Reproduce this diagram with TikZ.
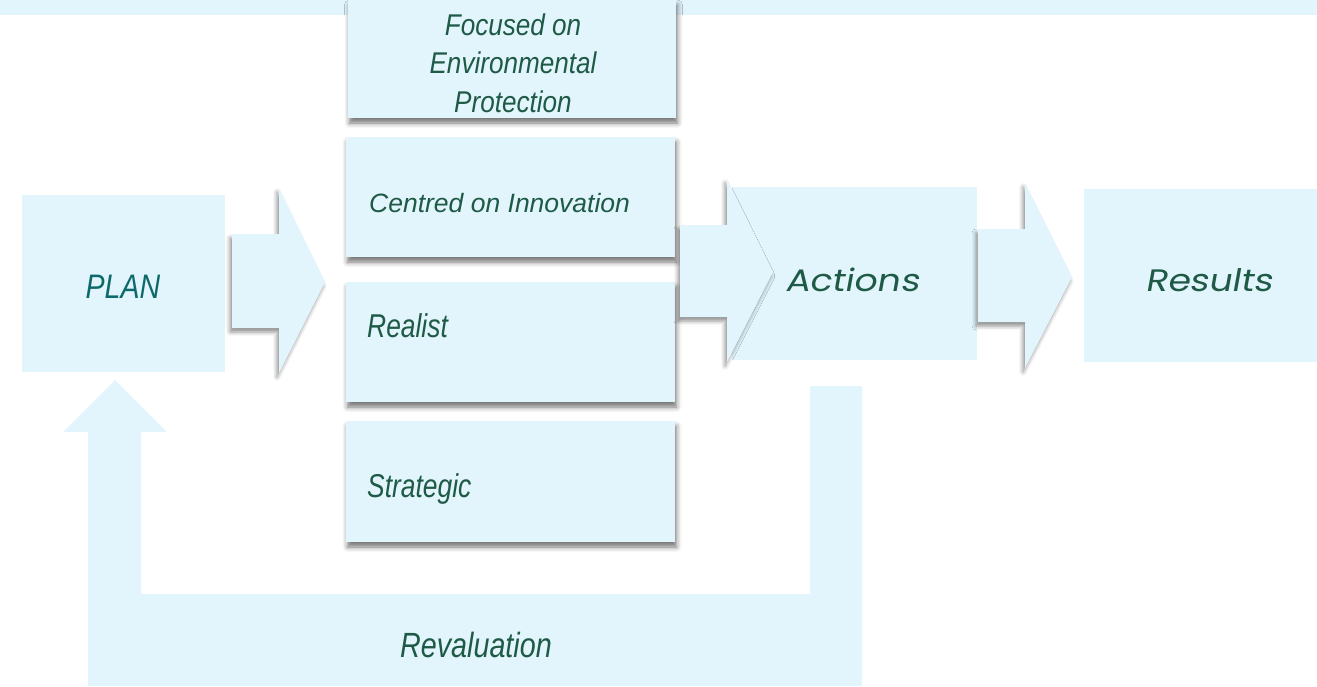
\documentclass[tikz,border=0pt]{standalone}
\usepackage{fontspec}
\setmainfont{Liberation Sans}
\newfontfamily\gothic[FakeSlant=0.18,FakeStretch=1.17]{Poppins}
\usetikzlibrary{shadows.blur}
\definecolor{boxfill}{HTML}{E2F5FC}
\definecolor{txtgreen}{HTML}{1E5A45}
\definecolor{txtteal}{HTML}{0E6A6A}
\tikzset{
  panel/.style={fill=boxfill, draw=none, inner sep=0pt, outer sep=0pt},
  shadowbox/.style={panel, blur shadow={shadow xshift=1.5pt, shadow yshift=-5pt, shadow blur radius=5pt, shadow opacity=55}},
  blockarrow/.style={fill=boxfill, draw=none, blur shadow={shadow xshift=-2pt, shadow yshift=-4pt, shadow blur radius=4pt, shadow opacity=45}},
  lbl/.style={text=txtgreen, inner sep=0pt, font=\itshape},
}
\begin{document}
\begin{tikzpicture}[x=1pt,y=-1pt]
\useasboundingbox (0,0) rectangle (1317,686);
% top band
\node[panel, minimum width=1317pt, minimum height=15pt, anchor=north west] (band) at (0,0) {};
% main boxes
\node[panel, minimum width=203pt, minimum height=177pt] (plan) at (123.5,283.5) {};
\node[panel, minimum width=245pt, minimum height=173pt] (actions) at (854.5,273.5) {};
\node[panel, minimum width=233pt, minimum height=173pt] (results) at (1200.5,275.5) {};
\node[shadowbox, minimum width=328pt, minimum height=118pt] (focus) at (512,59) {};
\node[shadowbox, minimum width=329pt, minimum height=120pt] (centred) at (510.5,197) {};
\node[shadowbox, minimum width=329pt, minimum height=120pt] (realist) at (510.5,342) {};
\node[shadowbox, minimum width=329pt, minimum height=121pt] (strategic) at (510.5,481.5) {};
% block arrows
\fill[blockarrow] (232,234) -- (279,234) -- (279,188) -- (325,282) -- (279,373) -- (279,328) -- (232,328) -- cycle;
\fill[blockarrow] (680,225) -- (727,225) -- (727,179) -- (773,272) -- (727,362) -- (727,317) -- (680,317) -- cycle;
\fill[blockarrow] (978,229) -- (1025,229) -- (1025,183) -- (1072,277) -- (1025,368) -- (1025,322) -- (978,322) -- cycle;
% feedback arrow
\coordinate (fbstart) at (862,386);
\coordinate (fbtip) at (115,380);
\fill[boxfill] (fbtip) -- (167,432) -- (141,432) -- (141,594) -- (810,594) -- (810,386) -- (fbstart) -- (862,686) -- (88,686) -- (88,432) -- (63,432) -- cycle;
% texts
\node[lbl, align=center, font=\itshape\fontsize{30}{38.5}\selectfont, anchor=base] (focustxt) at (513,112)
  {\scalebox{0.87}[1]{Focused on}\\\scalebox{0.87}[1]{Environmental}\\\scalebox{0.87}[1]{Protection}};
\node[lbl, font=\itshape\fontsize{26.5}{30}\selectfont, anchor=base west] (centredtxt) at (369,212) {Centred on Innovation};
\node[lbl, font=\itshape\fontsize{33}{36}\selectfont, anchor=base west] (realisttxt) at (367,337) {\scalebox{0.8}[1]{Realist}};
\node[lbl, font=\itshape\fontsize{33}{36}\selectfont, anchor=base west] (strategictxt) at (367,497) {\scalebox{0.8}[1]{Strategic}};
\node[lbl, text=txtteal, font=\itshape\fontsize{34}{36}\selectfont, anchor=base] (plantxt) at (123,298) {\scalebox{0.84}[1]{PLAN}};
\node[lbl, font=\itshape\fontsize{35}{38}\selectfont, anchor=base] (revaltxt) at (476,657) {\scalebox{0.82}[1]{Revaluation}};
\node[lbl, font=\gothic\fontsize{31}{34}\selectfont, anchor=base] (actionstxt) at (852,291) {Actions};
\node[lbl, font=\gothic\fontsize{31}{34}\selectfont, anchor=base] (resultstxt) at (1209,291) {Results};
\end{tikzpicture}
\end{document}
